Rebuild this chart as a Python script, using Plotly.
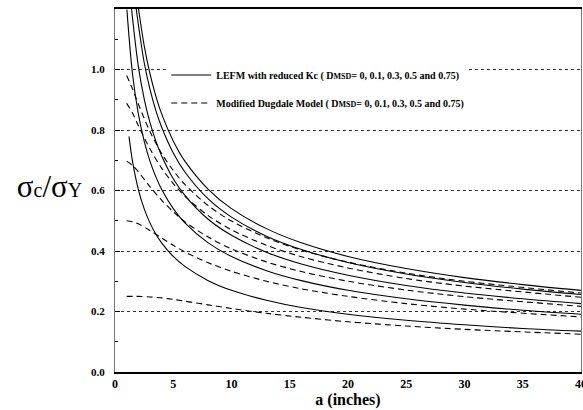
import plotly.graph_objects as go

# ---- data (a in inches, sigma_c/sigma_Y) ----
# LEFM with reduced Kc, DMSD = 0, 0.1, 0.3, 0.5, 0.75 (solid)
A_S0 = [2.02, 2.5, 3, 3.5, 4, 5, 6, 8, 10, 13, 16, 20, 25, 30, 35, 40]
S0 = [1.200, 1.080, 0.986, 0.913, 0.854, 0.764, 0.697, 0.604, 0.540, 0.474, 0.427, 0.382, 0.342, 0.312, 0.289, 0.270]
A_S1 = [1.82, 2.5, 3, 3.5, 4, 5, 6, 8, 10, 13, 16, 20, 25, 30, 35, 40]
S1 = [1.200, 1.024, 0.935, 0.865, 0.810, 0.724, 0.661, 0.572, 0.512, 0.449, 0.405, 0.362, 0.324, 0.296, 0.274, 0.256]
A_S2 = [1.42, 2, 2.5, 3, 3.5, 4, 5, 6, 8, 10, 13, 16, 20, 25, 30, 35, 40]
S2 = [1.200, 1.011, 0.904, 0.825, 0.764, 0.715, 0.639, 0.584, 0.505, 0.452, 0.396, 0.357, 0.320, 0.286, 0.261, 0.242, 0.226]
A_S3 = [1.02, 1.5, 2, 2.5, 3, 3.5, 4, 5, 6, 8, 10, 13, 16, 20, 25, 30, 35, 40]
S3 = [1.198, 0.986, 0.854, 0.764, 0.697, 0.646, 0.604, 0.540, 0.493, 0.427, 0.382, 0.335, 0.302, 0.270, 0.242, 0.221, 0.204, 0.191]
A_S4 = [1.2, 1.5, 2, 2.5, 3, 3.5, 4, 5, 6, 8, 10, 13, 16, 20, 25, 30, 35, 40]
S4 = [0.779, 0.697, 0.604, 0.540, 0.493, 0.456, 0.427, 0.382, 0.349, 0.302, 0.270, 0.237, 0.213, 0.191, 0.171, 0.156, 0.144, 0.135]

# Modified Dugdale model, DMSD = 0, 0.1, 0.3, 0.5, 0.75 (dashed)
A_D = [1, 1.5, 2, 3, 4, 5, 6, 8, 10, 13, 16, 20, 25, 30, 40]
D0 = [0.980, 0.936, 0.886, 0.795, 0.723, 0.666, 0.620, 0.550, 0.499, 0.444, 0.403, 0.363, 0.327, 0.300, 0.261]
D1 = [0.888, 0.856, 0.815, 0.738, 0.674, 0.623, 0.581, 0.517, 0.470, 0.419, 0.381, 0.344, 0.309, 0.284, 0.247]
D3 = [0.697, 0.683, 0.662, 0.613, 0.568, 0.530, 0.497, 0.446, 0.407, 0.364, 0.332, 0.300, 0.271, 0.249, 0.217]
D5 = [0.500, 0.497, 0.490, 0.468, 0.443, 0.419, 0.397, 0.361, 0.333, 0.300, 0.275, 0.250, 0.226, 0.208, 0.182]
D75 = [0.250, 0.250, 0.250, 0.248, 0.245, 0.240, 0.234, 0.222, 0.210, 0.194, 0.181, 0.166, 0.152, 0.141, 0.125]

X_TICKS = [0, 5, 10, 15, 20, 25, 30, 35, 40]
Y_TICKS = [0.0, 0.2, 0.4, 0.6, 0.8, 1.0]
Y_TICKTEXT = ["0.0", "0.2", "0.4", "0.6", "0.8", "1.0"]

LEG_LEFM = "LEFM with reduced Kc ( D<span style='font-size:8px'>MSD</span>= 0, 0.1, 0.3, 0.5 and 0.75)"
LEG_DUG = "Modified Dugdale Model ( D<span style='font-size:8px'>MSD</span>= 0, 0.1, 0.3, 0.5 and 0.75)"
Y_TITLE = "σ<span style='font-size:20px'>c</span>/σ<span style='font-size:20px'>Y</span>"

SERIF = "Liberation Serif, Times New Roman, serif"

fig = go.Figure()

for i, (xa, ya) in enumerate([(A_S0, S0), (A_S1, S1), (A_S2, S2), (A_S3, S3), (A_S4, S4)]):
    fig.add_trace(go.Scatter(
        x=xa, y=ya, mode="lines",
        line=dict(color="black", width=1.1, shape="spline", smoothing=0.9),
        name=LEG_LEFM, legendgroup="lefm", showlegend=(i == 0), legendrank=1,
        hoverinfo="skip"))

for i, ya in enumerate([D0, D1, D3, D5, D75]):
    fig.add_trace(go.Scatter(
        x=A_D, y=ya, mode="lines",
        line=dict(color="black", width=1.1, dash="6px,4px", shape="spline", smoothing=0.9),
        name=LEG_DUG, legendgroup="dug", showlegend=(i == 0), legendrank=2,
        hoverinfo="skip"))

fig.update_layout(
    width=583, height=410,
    margin=dict(l=115, r=2, t=9, b=38, autoexpand=False),
    paper_bgcolor="white", plot_bgcolor="white",
    font=dict(family=SERIF, color="black"),
    title=dict(text=Y_TITLE, xref="container", yref="container",
               x=0.085, y=0.545, xanchor="center", yanchor="middle", automargin=False,
               font=dict(family=SERIF, size=31, color="black")),
    legend=dict(
        x=0.11, y=0.858, xanchor="left", yanchor="top",
        bgcolor="white", borderwidth=0,
        font=dict(family=SERIF, size=10, color="black", weight="bold"),
        tracegroupgap=9, itemwidth=40),
    xaxis=dict(
        range=[0, 40], tickvals=X_TICKS, ticks="", showgrid=False, zeroline=False,
        showline=True, linecolor="black", linewidth=2, mirror=True,
        ticklabeloverflow="allow", automargin=False,
        tickfont=dict(family=SERIF, size=12, color="black", weight="bold"),
        title=dict(text="a (inches)", standoff=2,
                   font=dict(family=SERIF, size=16, color="black", weight="bold"))),
    yaxis=dict(
        range=[0, 1.2], tickvals=Y_TICKS, ticktext=Y_TICKTEXT,
        ticks="inside", ticklen=5, tickcolor="black", tickwidth=1,
        ticklabelstandoff=7, automargin=False,
        minor=dict(tickvals=[0.1, 0.3, 0.5, 0.7, 0.9, 1.1], ticks="inside", ticklen=3,
                   tickcolor="black", showgrid=False),
        showgrid=True, gridcolor="#333", griddash="dot", gridwidth=1,
        zeroline=False, showline=True, linecolor="#777", linewidth=1, mirror=True,
        tickfont=dict(family=SERIF, size=11, color="black", weight="bold")),
)

fig.write_html("out.html")
